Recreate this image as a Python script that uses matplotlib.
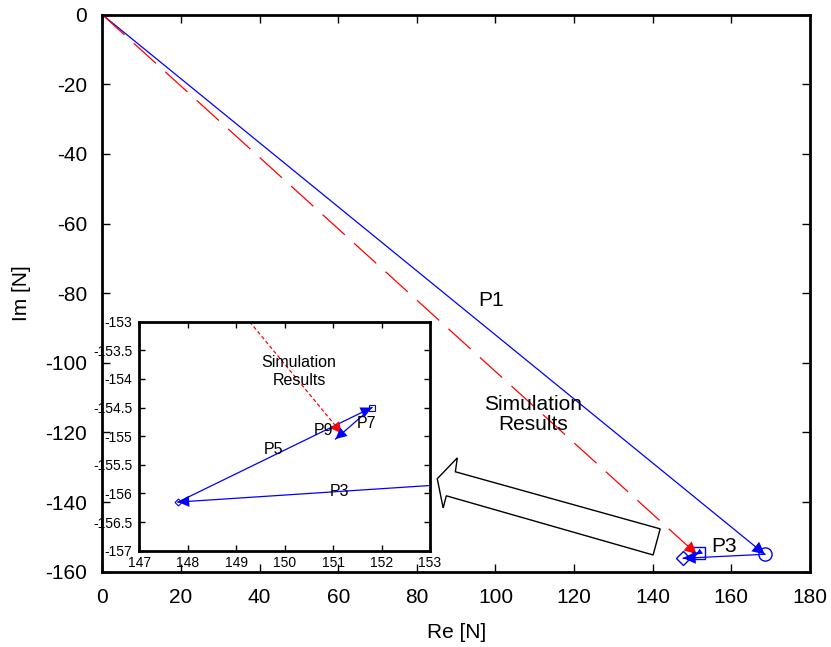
import matplotlib
matplotlib.use('Agg')
import matplotlib.pyplot as plt
from matplotlib.patches import Polygon
from matplotlib.ticker import FuncFormatter

plt.rcParams['font.family'] = ['Liberation Sans', 'DejaVu Sans']
plt.rcParams['axes.unicode_minus'] = False

# force vectors [N]: origin and the measured points
origin = (0.0, 0.0)
p_circle = (168.5, -155.0)
p_diamond = (147.8, -156.15)
p_square = (151.8, -154.5)
p_p7_end = (151.05, -155.05)
p_sim = (151.18, -154.95)

# path segments: (start, end, colour, dashed, short)
segments = [
    (origin, p_circle, 'blue', False, False),      # P1
    (origin, p_sim, 'red', True, False),           # simulation
    (p_circle, p_diamond, 'blue', False, False),   # P3
    (p_diamond, p_square, 'blue', False, True),    # P5
    (p_square, p_p7_end, 'blue', False, True),     # P7
]

main_labels = [('P1', 98.8, -82.2), ('Simulation\nResults', 109.5, -114.9), ('P3', 158.1, -152.8)]
inset_labels = [('Simulation\nResults', 150.30, -153.87), ('P9', 150.81, -154.90),
                ('P7', 151.68, -154.78), ('P5', 149.77, -155.23), ('P3', 151.13, -155.97)]

# outline of the hollow pointer into the zoom box
pointer = [(85.2, -133.3), (90.3, -127.3), (89.8, -131.3), (141.9, -147.7),
           (140.1, -155.2), (87.5, -138.2), (86.7, -141.7)]

main_xticks = list(range(0, 181, 20))
main_yticks = list(range(-160, 1, 20))
inset_xticks = list(range(147, 154))
inset_yticks = [-157 + 0.5 * i for i in range(9)]


def draw_paths(ax, dash, head, small_head, lw):
    for a, b, c, dashed, short in segments:
        ls = (0, dash) if dashed else '-'
        ax.plot([a[0], b[0]], [a[1], b[1]], color=c, lw=lw, ls=ls, zorder=2)
        ax.annotate('', xy=b, xytext=a,
                    arrowprops=dict(arrowstyle='-|>', color=c, lw=0,
                                    mutation_scale=small_head if short else head,
                                    shrinkA=0, shrinkB=0),
                    zorder=3)


def style_axes(ax, size, tl):
    ax.tick_params(direction='in', top=True, right=True, labelsize=size,
                   length=tl, width=1)
    for s in ax.spines.values():
        s.set_linewidth(2)


fig = plt.figure(figsize=(8.31, 6.47), dpi=100)
ax = fig.add_axes([0.1231, 0.1164, 0.8516, 0.8609])

draw_paths(ax, (24, 10), 22, 11, 0.9)
ax.plot(*p_circle, 'o', ms=9.5, mfc='none', mec='blue', mew=1)
ax.plot(*p_square, 's', ms=8.5, mfc='none', mec='blue', mew=1)
ax.plot(*p_diamond, 'D', ms=7, mfc='none', mec='blue', mew=1)

for t, x, y in main_labels:
    ax.text(x, y, t, fontsize=15, ha='center', va='center', linespacing=1.1)

ax.add_patch(Polygon(pointer, closed=True, fc='white', ec='black', lw=1, zorder=4))

ax.set_xlim(0, 180)
ax.set_ylim(-160, 0)
ax.set_xticks(main_xticks)
ax.set_yticks(main_yticks)
ax.set_xlabel('Re [N]', fontsize=15, labelpad=11)
ax.set_ylabel('Im [N]', fontsize=15, labelpad=10)
style_axes(ax, 15, 6)
ax.tick_params(axis='x', pad=12)
ax.tick_params(axis='y', pad=11)

# zoomed view around the end points
axi = fig.add_axes([0.1676, 0.1488, 0.3498, 0.354])
draw_paths(axi, (3, 2), 20, 20, 0.9)
axi.plot(*p_square, 's', ms=4, mfc='none', mec='blue', mew=0.8)
axi.plot(*p_diamond, 'D', ms=3.5, mfc='none', mec='blue', mew=0.8)
for t, x, y in inset_labels:
    axi.text(x, y, t, fontsize=11.5, ha='center', va='center', linespacing=1.25)
axi.set_xlim(147, 153)
axi.set_ylim(-157, -153)
axi.set_xticks(inset_xticks)
axi.set_yticks(inset_yticks)
axi.yaxis.set_major_formatter(FuncFormatter(lambda v, p: '%g' % v))
style_axes(axi, 10, 4)
axi.tick_params(axis='x', pad=4)
axi.tick_params(axis='y', pad=5)

fig.savefig('out.png', dpi=100)
